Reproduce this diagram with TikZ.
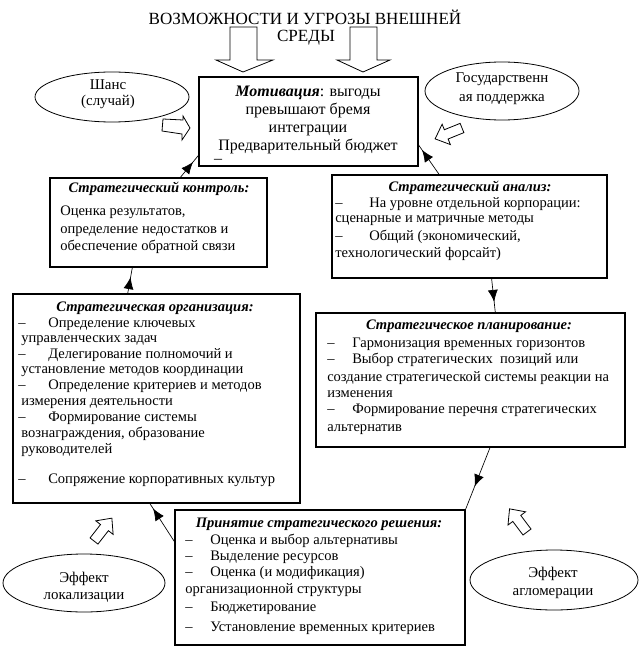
\documentclass[tikz,border=0pt]{standalone}
\usepackage{fontspec}
\setmainfont{Liberation Serif}
\usetikzlibrary{arrows.meta,calc,fit,decorations.markings}

\newcommand\bodyfs{\fontsize{10.9}{12}\selectfont}
\newcommand\motfs{\fontsize{12}{14}\selectfont}
\newcommand\ovalfs{\fontsize{11.2}{13}\selectfont}
\newcommand\headfs{\fontsize{12.8}{15}\selectfont}
\newcommand\itm[1][22.5pt]{\makebox[#1][l]{–}}

\tikzset{
  box/.style={draw, line width=0.8pt, inner sep=0pt},
  lbl/.style={inner sep=0pt, anchor=base west, font=\bodyfs},
  ttl/.style={inner sep=0pt, anchor=base, font=\bodyfs\bfseries\itshape},
  ctr/.style={inner sep=0pt, anchor=base},
  hollow/.style={draw, line width=0.6pt, line join=miter},
  link/.style={line width=0.5pt, postaction={decorate},
    decoration={markings, mark=at position #1 with {\arrow{Latex[length=9pt,width=7.5pt]}}}}
}

\newcommand\blockarrow[2]{%
  \draw[hollow, shift={(#1)}, rotate=#2] (0,-5) -- (17,-5) -- (17,-11) -- (29,0) -- (17,11) -- (17,5) -- (0,5) -- cycle;}

\begin{document}
\begin{tikzpicture}[x=0.75pt,y=0.75pt,yscale=-1,xscale=1]
\useasboundingbox (0,0) rectangle (640,659);

% Title
\node[ctr, font=\headfs] (title1) at (305,25) {ВОЗМОЖНОСТИ И УГРОЗЫ ВНЕШНЕЙ};
\node[ctr, font=\headfs] (title2) at (306,42) {СРЕДЫ};

%Shape: Block arrows down
\draw[hollow] (230,27) -- (257,27) -- (257,60) -- (273,60) -- (243,72) -- (216,60) -- (230,60) -- cycle;
\draw[hollow] (350,27) -- (377,27) -- (377,60) -- (390,60) -- (363,72) -- (337,60) -- (350,60) -- cycle;

%Shape: Rectangles
\node[box, fit={(199,77) (418,166)}] (mot) {};
\node[box, fit={(50,178) (267,267)}] (ctl) {};
\node[box, fit={(332,175) (607,278)}] (ana) {};
\node[box, fit={(13,294) (300,503)}] (org) {};
\node[box, fit={(316,313) (625,447)}] (plan) {};
\node[box, fit={(175,510) (465,645)}] (dec) {};

%Shape: Ellipses
\draw[line width=0.6pt] (112,97) ellipse [x radius=77, y radius=25];
\draw[line width=0.6pt] (502,91) ellipse [x radius=77, y radius=29];
\draw[line width=0.6pt] (84,583) ellipse [x radius=81, y radius=29];
\draw[line width=0.6pt] (554,580) ellipse [x radius=84, y radius=30];

%Shape: Small hollow arrows
\draw[hollow] (163,119) -- (183,120) -- (183,116) -- (190,128) -- (182,140) -- (182,134) -- (162,131) -- cycle;
\blockarrow{462,128}{158}
\blockarrow{94,541}{-52}
\blockarrow{527,532}{-127}

% Text Node: ellipses
\node[ctr, font=\ovalfs] (chance1) at (108,90) {Шанс};
\node[ctr, font=\ovalfs] (chance2) at (108,106) {(случай)};
\node[ctr, font=\ovalfs] (gov1) at (502,83) {Государственн};
\node[ctr, font=\ovalfs] (gov2) at (502,102) {ая поддержка};
\node[ctr, font=\ovalfs] (loc1) at (84,582) {Эффект};
\node[ctr, font=\ovalfs] (loc2) at (84,599) {локализации};
\node[ctr, font=\ovalfs] (agl1) at (553,577) {Эффект};
\node[ctr, font=\ovalfs] (agl2) at (553,595) {агломерации};

% Text Node: motivation
\node[ctr, font=\motfs] (mot1) at (308,97) {\textbf{\textit{Мотивация}}: выгоды};
\node[ctr, font=\motfs] (mot2) at (308,115) {превышают бремя};
\node[ctr, font=\motfs] (mot3) at (308,133) {интеграции};
\node[ctr, font=\motfs] (mot4) at (308,151) {Предварительный бюджет};
\node[ctr, font=\motfs] (mot5) at (218,164) {–};

% Text Node: control
\node[ttl] (ctlh) at (159,193) {Стратегический контроль:};
\node[lbl] (ctl1) at (60,215) {Оценка результатов,};
\node[lbl] (ctl2) at (60,233) {определение недостатков и};
\node[lbl] (ctl3) at (60,250) {обеспечение обратной связи};

% Text Node: analysis
\node[ttl] (anah) at (470,192) {Стратегический анализ:};
\node[lbl] (ana1) at (335,207) {\itm[25.5pt]На уровне отдельной корпорации:};
\node[lbl] (ana2) at (335,222) {сценарные и матричные методы};
\node[lbl] (ana3) at (335,240) {\itm[25.5pt]Общий (экономический,};
\node[lbl] (ana4) at (335,257) {технологический форсайт)};

% Text Node: organization
\node[ttl] (orgh) at (155,311) {Стратегическая организация:};
\node[lbl] (org1) at (18,327) {\itm Определение ключевых};
\node[lbl] (org2) at (21,342) {управленческих задач};
\node[lbl] (org3) at (18,358) {\itm Делегирование полномочий и};
\node[lbl] (org4) at (21,373) {установление методов координации};
\node[lbl] (org5) at (18,389) {\itm Определение критериев и методов};
\node[lbl] (org6) at (21,405) {измерения деятельности};
\node[lbl] (org7) at (18,421) {\itm Формирование системы};
\node[lbl] (org8) at (21,437) {вознаграждения, образование};
\node[lbl] (org9) at (21,453) {руководителей};
\node[lbl] (org10) at (18,483) {\itm Сопряжение корпоративных культур};

% Text Node: planning
\node[ttl] (planh) at (469,329) {Стратегическое планирование:};
\node[lbl] (plan1) at (327,347) {\itm[18.75pt]Гармонизация временных горизонтов};
\node[lbl] (plan2) at (327,363) {\itm[18.75pt]Выбор стратегических\ \ позиций или};
\node[lbl] (plan3) at (327,381) {создание стратегической системы реакции на};
\node[lbl] (plan4) at (327,397) {изменения};
\node[lbl] (plan5) at (327,413) {\itm[18.75pt]Формирование перечня стратегических};
\node[lbl] (plan6) at (327,431) {альтернатив};

% Text Node: decision
\node[ttl] (dech) at (319,527) {Принятие стратегического решения:};
\node[lbl] (dec1) at (185,544) {\itm[18.75pt]Оценка и выбор альтернативы};
\node[lbl] (dec2) at (185,560) {\itm[18.75pt]Выделение ресурсов};
\node[lbl] (dec3) at (185,576) {\itm[18.75pt]Оценка (и модификация)};
\node[lbl] (dec4) at (185,593) {организационной структуры};
\node[lbl] (dec5) at (185,611) {\itm[18.75pt]Бюджетирование};
\node[lbl] (dec6) at (185,631) {\itm[18.75pt]Установление временных критериев};

%Straight Lines: connectors
\draw[link=0.7] ($(ctl.north west)!0.60!(ctl.north east)$) -- ($(mot.north west)!0.876!(mot.south west)$);
\draw[link=0.83] ($(ana.north west)!0.39!(ana.north east)$) -- ($(mot.north east)!0.76!(mot.south east)$);
\draw[link=0.69] ($(ana.south west)!0.58!(ana.south east)$) -- ($(plan.north west)!0.58!(plan.north east)$);
\draw[link=0.63] ($(plan.south west)!0.563!(plan.south east)$) -- (dec.north east);
\draw[link=0.87] ($(dec.north west)!0.237!(dec.south west)$) -- ($(org.south west)!0.477!(org.south east)$);
\draw[link=0.63] ($(org.north west)!0.40!(org.north east)$) -- ($(ctl.south west)!0.38!(ctl.south east)$);

\end{tikzpicture}
\end{document}
